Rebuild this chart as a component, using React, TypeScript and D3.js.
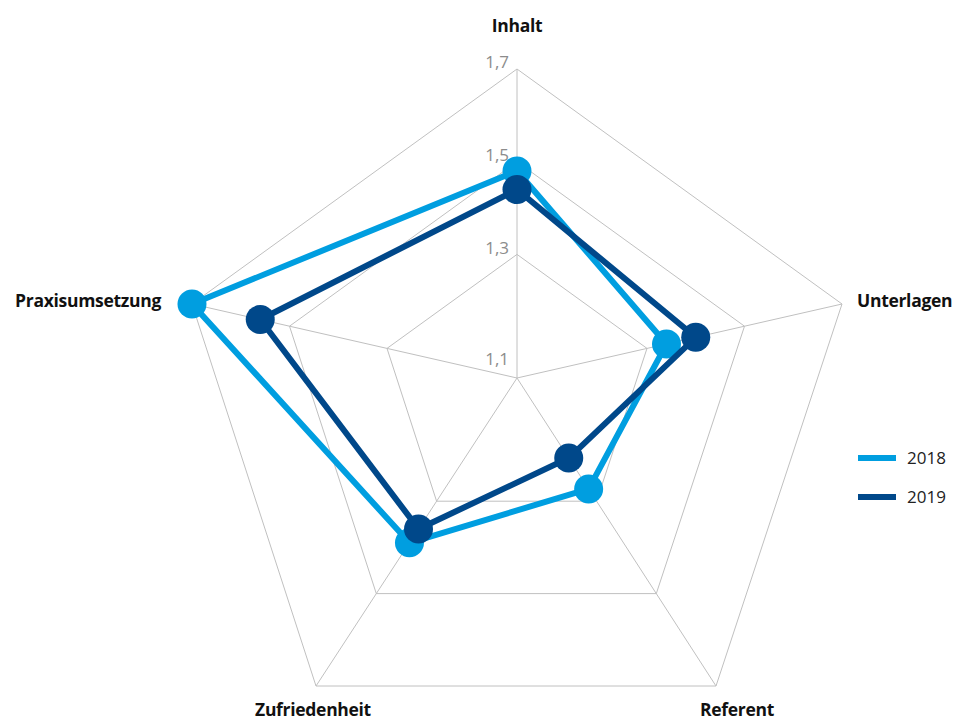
import React from 'react';
import * as d3 from 'd3';

// chart data
const categories = ['Inhalt', 'Unterlagen', 'Referent', 'Zufriedenheit', 'Praxisumsetzung'];
const values2018 = [1.48, 1.34, 1.28, 1.39, 1.7];
const values2019 = [1.44, 1.4, 1.23, 1.36, 1.56];
const ticks = [1.1, 1.3, 1.5, 1.7];
const seriesNames = ['2018', '2019'];

const colors = ['#009ee0', '#00488a'];

// outer vertex of each spoke, relative to the centre (the original is slightly skewed)
const spokes: [number, number][] = [
  [0, -309],
  [325, -74],
  [199, 308],
  [-201, 308],
  [-325, -74],
];

const cx = 517;
const cy = 378;

// radial scale: value -> fraction of the spoke length
const rScale = d3.scaleLinear().domain(ticks).range([0, 0.4, 0.7, 1]);

const pt = (v: number, i: number): [number, number] => {
  const f = rScale(v);
  return [cx + spokes[i][0] * f, cy + spokes[i][1] * f];
};

const fmt = (v: number) => d3.format('.1f')(v).replace('.', ',');

export default function App() {
  const closed = d3.line<[number, number]>().curve(d3.curveLinearClosed);
  const series = [values2018, values2019];

  return (
    <svg width={960} height={720} style={{ position: 'absolute', left: 0, top: 0, background: '#fff' }}
      fontFamily="'Open Sans', 'Noto Sans', sans-serif">
      {/* grid */}
      <g stroke="#c0c0c0" strokeWidth={1} fill="none">
        {ticks.slice(1).map(t => (
          <path key={t} d={closed(categories.map((_, i) => pt(t, i))) || ''} />
        ))}
        {categories.map((c, i) => {
          const [x, y] = pt(ticks[ticks.length - 1], i);
          return <line key={c} x1={cx} y1={cy} x2={x} y2={y} />;
        })}
      </g>

      {/* tick labels */}
      <g fill="#8c8c8c" fontSize={17} textAnchor="end">
        {ticks.map((t, k) => (
          <text key={t} x={cx - 8} y={pt(t, 0)[1] - (k === 0 ? 12 : 0)} dy="-0.05em">{fmt(t)}</text>
        ))}
      </g>

      {/* series */}
      {series.map((vals, s) => {
        const pts = vals.map((v, i) => pt(v, i));
        return (
          <g key={s}>
            <path d={closed(pts) || ''} fill="none" stroke={colors[s]} strokeWidth={6} strokeLinejoin="round" />
            {pts.map((p, i) => (
              <circle key={i} cx={p[0]} cy={p[1]} r={14.5} fill={colors[s]} />
            ))}
          </g>
        );
      })}

      {/* category labels */}
      <g fontSize={17.5} fontWeight="bold" fill="#111" letterSpacing="-0.3">
        <text x={cx} y={32} textAnchor="middle">{categories[0]}</text>
        <text x={857} y={307} textAnchor="start">{categories[1]}</text>
        <text x={737} y={716} textAnchor="middle">{categories[2]}</text>
        <text x={313} y={716} textAnchor="middle">{categories[3]}</text>
        <text x={161} y={307} textAnchor="end">{categories[4]}</text>
      </g>

      {/* legend */}
      <g fontSize={17} fill="#222">
        {seriesNames.map((n, s) => (
          <g key={n} transform={`translate(858, ${458 + s * 39})`}>
            <line x1={0} x2={38} y1={0} y2={0} stroke={colors[s]} strokeWidth={6} />
            <text x={49} y={0} dy="0.35em">{n}</text>
          </g>
        ))}
      </g>
    </svg>
  );
}
